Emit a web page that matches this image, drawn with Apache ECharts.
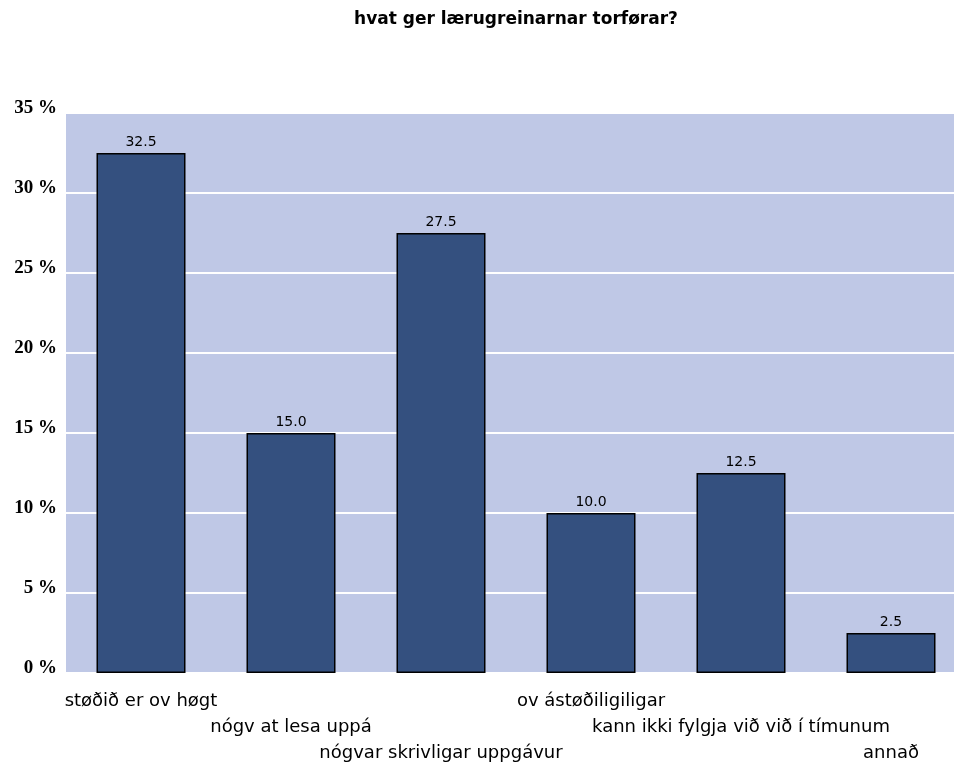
<!DOCTYPE html>
<html><head><meta charset="utf-8">
<script src="https://cdn.jsdelivr.net/npm/echarts@6/dist/echarts.min.js"></script>
<style>html,body{margin:0;padding:0;background:#fff}#c{width:954px;height:762px}</style>
</head><body><div id="c"></div>
<script>
const title = 'hvat ger lærugreinarnar torførar?';
const categories = ['støðið er ov høgt','nógv at lesa uppá','nógvar skrivligar uppgávur','ov ástøðiligiligar','kann ikki fylgja við við í tímunum','annað'];
const values = [32.5, 15.0, 27.5, 10.0, 12.5, 2.5];
const yTicks = [0, 5, 10, 15, 20, 25, 30, 35];

const chart = echarts.init(document.getElementById('c'));
chart.setOption({
  animation: false,
  title: { text: title, left: 511, textAlign: 'center', top: 6,
    textStyle: { fontFamily: 'DejaVu Sans', fontWeight: 'bold', fontSize: 17, color: '#000' } },
  grid: { left: 66, top: 113, width: 900, height: 560, show: true, backgroundColor: '#bfc8e6', borderWidth: 0,
    containLabel: false, outerBoundsMode: 'none' },
  xAxis: {
    type: 'category', data: categories,
    axisLine: { show: false }, axisTick: { show: false },
    axisLabel: {
      interval: 0, margin: 19,
      formatter: (v, i) => '{r' + (i % 3) + '|' + v + '}',
      rich: {
        r0: { fontFamily: 'DejaVu Sans', fontSize: 18, color: '#000', padding: [0, 0, 0, 0] },
        r1: { fontFamily: 'DejaVu Sans', fontSize: 18, color: '#000', padding: [26, 0, 0, 0] },
        r2: { fontFamily: 'DejaVu Sans', fontSize: 18, color: '#000', padding: [52, 0, 0, 0] }
      }
    }
  },
  yAxis: {
    type: 'value', min: yTicks[0], max: yTicks[yTicks.length - 1], interval: 5,
    axisLine: { show: false }, axisTick: { show: false },
    splitLine: { lineStyle: { color: '#ffffff', width: 2 } },
    axisLabel: { margin: 9, formatter: v => '{a|' + v + ' %}',
      rich: { a: { fontFamily: 'Liberation Serif', fontWeight: 'bold', fontSize: 19, color: '#000', padding: [0, 0, 10, 0] } } }
  },
  series: [{
    type: 'bar', data: values, barWidth: 89,
    itemStyle: { color: '#34507f', borderColor: '#000', borderWidth: 1.5 },
    label: { show: true, position: 'top', distance: 4, formatter: p => p.value.toFixed(1),
      fontFamily: 'DejaVu Sans', fontSize: 14, color: '#000' }
  }]
});
</script></body></html>
